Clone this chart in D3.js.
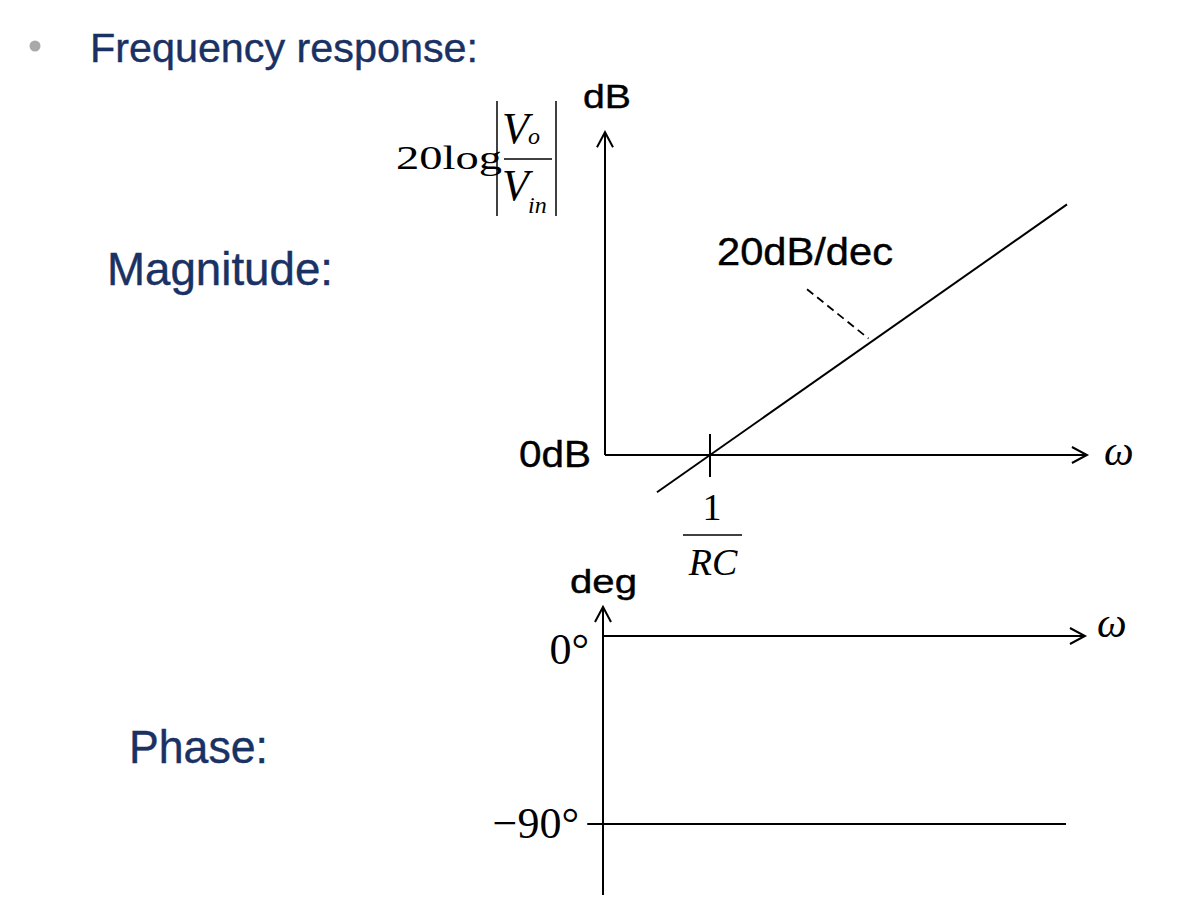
<!DOCTYPE html>
<html><head><meta charset="utf-8">
<script src="https://cdn.jsdelivr.net/npm/d3@7"></script>
<style>
html,body{margin:0;padding:0;background:#fff;}
svg{display:block;}
</style></head>
<body>
<svg id="c" width="1182" height="904"></svg>
<script>
// ---- data (log10(ω·RC) in decades, dB / degrees) ----
const magW = [-0.505, 3.4];          // asymptote start / end (decades)
const magDb = [-10.1, 68.0];         // 20 dB/dec asymptote values
const slopeLabel = "20dB/dec";
const leaderW = [0.924, 1.51];       // dashed leader from label to line
const leaderDb = [45.0, 31.6];
const phaseW = [-1.15, 3.41];
const phaseDeg = [-90, -90];
const magAxisW = [-1, 3.59];         // horizontal magnitude axis extent
const magAxisDb = [0, 87.6];         // vertical magnitude axis extent
const phAxisW = [-1, 3.59];
const phAxisDeg = [13.9, -124];
const cornerW = [0];                 // ω = 1/RC
const magTickLabels = ["0dB"];
const phaseTickDeg = [0, -90];
const phaseTickLabels = ["0°", "−90°"];

const svg = d3.select("#c");
const navy = "#1a3163";
const serif = "'Liberation Serif','Times New Roman',serif";
const sans = "'Liberation Sans',Arial,Helvetica,sans-serif";

// ---- scales ----
const xMag = d3.scaleLinear().domain([-1, 0]).range([605, 710]);
const yMag = d3.scaleLinear().domain([0, 20]).range([455, 381.3]);
const xPh = d3.scaleLinear().domain([-1, 0]).range([603, 708]);
const yPh = d3.scaleLinear().domain([0, -90]).range([636, 824]);

function sansText(g, x, y, size, txt, fill, len) {
  const t = g.append("text").attr("x", x).attr("y", y).attr("font-family", sans).attr("font-size", size)
    .attr("fill", fill).attr("stroke", fill).attr("stroke-width", 0.4).text(txt);
  if (len) t.attr("textLength", len).attr("lengthAdjust", "spacingAndGlyphs");
  return t;
}

// ---- header ----
svg.append("circle").attr("cx", 35).attr("cy", 46).attr("r", 5.5).attr("fill", "#a9a9a9");
sansText(svg, 90, 62, 41, "Frequency response:", navy, 388);
sansText(svg, 107, 285, 46, "Magnitude:", navy, 226);
sansText(svg, 129, 763, 46, "Phase:", navy, 139);

function arrow(g, x, y, dir) {
  const L = 15, H = 8;
  const p = dir === "up"
    ? [[x - H, y + L], [x, y], [x + H, y + L]]
    : [[x - L, y - H], [x, y], [x - L, y + H]];
  g.append("path").attr("d", d3.line()(p)).attr("fill", "none")
    .attr("stroke", "#000").attr("stroke-width", 2);
}

// ---- magnitude plot ----
const gm = svg.append("g");
const x0 = xMag(magAxisW[0]), y0 = yMag(magAxisDb[0]);
gm.append("line").attr("x1", x0).attr("x2", x0).attr("y1", y0).attr("y2", yMag(magAxisDb[1]))
  .attr("stroke", "#000").attr("stroke-width", 2);
gm.append("line").attr("x1", x0).attr("x2", xMag(magAxisW[1])).attr("y1", y0).attr("y2", y0)
  .attr("stroke", "#000").attr("stroke-width", 2);
arrow(gm, x0, yMag(magAxisDb[1]), "up");
arrow(gm, xMag(magAxisW[1]), y0, "right");
cornerW.forEach(w => {
  gm.append("line").attr("x1", xMag(w)).attr("x2", xMag(w)).attr("y1", y0 - 21).attr("y2", y0 + 22)
    .attr("stroke", "#000").attr("stroke-width", 2);
});
gm.append("path").datum(magW.map((w, i) => [w, magDb[i]]))
  .attr("d", d3.line().x(d => xMag(d[0])).y(d => yMag(d[1])))
  .attr("fill", "none").attr("stroke", "#000").attr("stroke-width", 2);
gm.append("path").datum(leaderW.map((w, i) => [w, leaderDb[i]]))
  .attr("d", d3.line().x(d => xMag(d[0])).y(d => yMag(d[1])))
  .attr("fill", "none").attr("stroke", "#000").attr("stroke-width", 1.8).attr("stroke-dasharray", "8,5");
sansText(gm, 717, 265, 38, slopeLabel, "#000", 176);
sansText(gm, 583, 108, 33, "dB", "#000", 48);
sansText(gm, 519, 467, 37, magTickLabels[0], "#000", 72);
gm.append("text").attr("x", 1104).attr("y", 465).attr("font-family", serif).attr("font-size", 42)
  .attr("font-style", "italic").text("ω");
const cx = xMag(cornerW[0]) + 2;
gm.append("text").attr("x", cx).attr("y", 520).attr("text-anchor", "middle").attr("font-family", serif)
  .attr("font-size", 38).text("1");
gm.append("line").attr("x1", 683).attr("x2", 742).attr("y1", 535).attr("y2", 535)
  .attr("stroke", "#000").attr("stroke-width", 1.5);
gm.append("text").attr("x", cx + 1).attr("y", 575).attr("text-anchor", "middle").attr("font-family", serif)
  .attr("font-size", 38).attr("font-style", "italic").text("RC");
// 20log|Vo/Vin|
const ge = svg.append("g").attr("font-family", serif);
ge.append("text").attr("x", 396).attr("y", 169).attr("font-size", 34)
  .attr("textLength", 106).attr("lengthAdjust", "spacingAndGlyphs").text("20log");
[497, 556].forEach(x => ge.append("line").attr("x1", x).attr("x2", x).attr("y1", 101).attr("y2", 216)
  .attr("stroke", "#000").attr("stroke-width", 1.5));
ge.append("line").attr("x1", 504).attr("x2", 552).attr("y1", 159).attr("y2", 159)
  .attr("stroke", "#000").attr("stroke-width", 1.5);
ge.append("text").attr("x", 502).attr("y", 143).attr("font-size", 44).attr("font-style", "italic").text("V");
ge.append("text").attr("x", 528).attr("y", 144).attr("font-size", 24).attr("font-style", "italic").text("o");
ge.append("text").attr("x", 502).attr("y", 200).attr("font-size", 44).attr("font-style", "italic").text("V");
ge.append("text").attr("x", 528).attr("y", 213).attr("font-size", 24).attr("font-style", "italic").text("in");

// ---- phase plot ----
const gp = svg.append("g");
const px0 = xPh(phAxisW[0]);
gp.append("line").attr("x1", px0).attr("x2", px0).attr("y1", yPh(phAxisDeg[1])).attr("y2", yPh(phAxisDeg[0]))
  .attr("stroke", "#000").attr("stroke-width", 2);
gp.append("line").attr("x1", px0).attr("x2", xPh(phAxisW[1])).attr("y1", yPh(0)).attr("y2", yPh(0))
  .attr("stroke", "#000").attr("stroke-width", 2);
arrow(gp, px0, yPh(phAxisDeg[0]), "up");
arrow(gp, xPh(phAxisW[1]), yPh(0), "right");
gp.append("path").datum(phaseW.map((w, i) => [w, phaseDeg[i]]))
  .attr("d", d3.line().x(d => xPh(d[0])).y(d => yPh(d[1])))
  .attr("fill", "none").attr("stroke", "#000").attr("stroke-width", 2);
gp.append("text").attr("x", 589).attr("y", 664).attr("text-anchor", "end").attr("font-family", serif)
  .attr("font-size", 44).text(phaseTickLabels[0]);
gp.append("text").attr("x", 579).attr("y", 838).attr("text-anchor", "end").attr("font-family", serif)
  .attr("font-size", 44).text(phaseTickLabels[1]);
sansText(gp, 570, 593, 33, "deg", "#000", 67);
gp.append("text").attr("x", 1097).attr("y", 637).attr("font-family", serif).attr("font-size", 42)
  .attr("font-style", "italic").text("ω");
</script>
</body></html>
